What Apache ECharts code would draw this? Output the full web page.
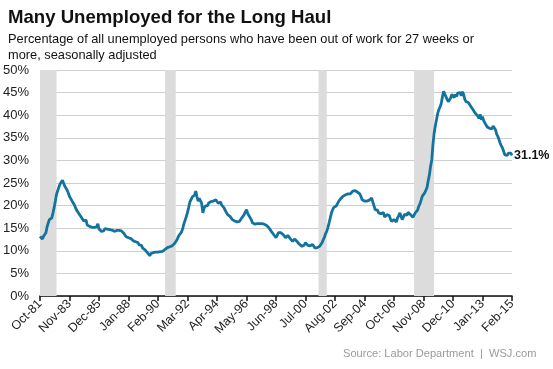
<!DOCTYPE html>
<html>
<head>
<meta charset="utf-8">
<script src="https://cdn.jsdelivr.net/npm/echarts@6/dist/echarts.min.js"></script>
<style>
html,body{margin:0;padding:0;background:#fff;}
#chart{width:553px;height:369px;}
</style>
</head>
<body>
<div id="chart"></div>
<script>
// Monthly share (%) of unemployed out of work 27+ weeks, Oct-1981 .. Feb-2015
const startYear = 1981, startMonth = 9; // October (0-based)
const values1980s = [
  13.2, 12.8, 12.6,                                                   // 1981 Oct-Dec
  13.2, 13.6, 14.0, 15.3, 16.2, 16.9, 16.6, 17.3, 18.4, 19.6, 21.0, 22.5, // 1982
  23.3, 24.1, 24.8, 25.2, 25.6, 26.0, 24.3, 23.9, 23.4, 22.8, 22.0, 21.6, // 1983
  21.1, 20.8, 20.2, 19.8, 19.0, 18.6, 18.2, 17.9, 17.4, 17.0, 16.6, 16.3, // 1984
  16.8, 15.7, 16.0, 15.4, 15.6, 15.2, 15.0, 15.2, 14.9, 15.3, 16.0, 14.8, // 1985
  14.7, 14.3, 14.5, 14.4, 14.9, 15.0, 14.8, 14.6, 14.7, 14.5, 14.6, 14.2, // 1986
  14.3, 14.6, 14.5, 14.4, 14.5, 14.8, 14.4, 14.2, 13.9, 13.5, 13.1, 13.2, // 1987
  12.9, 13.0, 12.7, 12.5, 12.2, 12.3, 12.0, 11.6, 11.8, 11.3, 11.0, 11.2, // 1988
  10.6, 10.4, 10.2, 10.0, 9.6, 9.2, 8.9, 9.4, 9.3, 9.6, 9.9, 9.7         // 1989
];
const values1990s = [
  9.8, 9.7, 9.6, 9.8, 9.7, 9.9, 10.0, 10.3, 10.5, 10.7, 10.8, 10.9,       // 1990
  11.0, 11.1, 11.3, 11.6, 12.0, 12.4, 13.0, 13.5, 13.9, 14.2, 15.0, 16.0, // 1991
  16.8, 17.6, 18.5, 19.6, 20.8, 21.3, 21.9, 22.0, 22.3, 23.2, 22.0, 21.0, // 1992
  21.6, 21.3, 20.5, 18.4, 19.4, 19.9, 20.2, 20.0, 20.6, 20.5, 20.9, 20.7, // 1993
  21.0, 20.6, 21.3, 21.2, 20.5, 20.6, 20.8, 20.1, 20.2, 19.5, 18.9, 18.7, // 1994
  18.0, 17.8, 17.6, 17.2, 16.9, 16.5, 16.6, 16.2, 16.4, 16.3, 16.5, 16.8, // 1995
  17.3, 17.2, 18.0, 18.6, 19.1, 18.3, 17.8, 17.6, 16.9, 16.2, 16.4, 15.9, // 1996
  15.8, 16.0, 15.9, 16.0, 16.2, 16.0, 16.2, 15.9, 15.8, 15.6, 15.2, 15.1, // 1997
  14.8, 14.3, 14.0, 13.6, 13.2, 12.9, 13.4, 14.0, 14.3, 14.0, 13.6, 13.6, // 1998
  13.2, 12.9, 12.9, 13.4, 13.2, 12.7, 12.5, 12.1, 12.3, 12.6, 12.5, 12.0  // 1999
];
const values2000s = [
  11.6, 11.4, 11.2, 11.0, 10.7, 11.3, 11.8, 11.6, 11.2, 11.0, 11.1, 11.4, // 2000
  11.4, 11.0, 10.6, 10.3, 10.7, 11.0, 11.0, 11.4, 11.8, 12.1, 13.0, 13.8, // 2001
  14.3, 15.2, 16.2, 17.3, 18.4, 19.1, 19.6, 19.4, 19.9, 20.4, 20.9, 21.3, // 2002
  21.6, 21.5, 22.1, 21.8, 22.4, 22.2, 22.6, 22.8, 22.6, 23.0, 23.2, 22.9, // 2003
  23.3, 23.5, 23.0, 23.1, 22.6, 22.0, 21.3, 21.6, 21.0, 20.6, 21.0, 21.3, // 2004
  21.2, 21.5, 21.7, 21.4, 20.0, 19.1, 18.7, 19.0, 18.4, 18.6, 18.2, 18.0, // 2005
  18.5, 17.5, 17.6, 18.0, 18.4, 17.8, 17.0, 16.5, 16.2, 16.9, 16.5, 16.4, // 2006
  17.3, 17.8, 18.4, 17.6, 16.9, 17.5, 18.1, 18.4, 17.9, 18.5, 18.8, 18.0, // 2007
  17.6, 17.4, 17.8, 18.4, 18.3, 19.0, 19.9, 20.4, 21.2, 22.1, 22.5, 22.8, // 2008
  23.2, 24.0, 25.5, 26.8, 28.7, 30.1, 33.5, 36.0, 37.6, 39.0, 40.4, 41.2  // 2009
];
const values2010s = [
  41.8, 42.6, 44.0, 45.3, 45.0, 44.1, 43.5, 43.0, 43.1, 43.8, 44.6, 44.9, // 2010
  43.9, 44.6, 44.1, 44.9, 44.5, 45.0, 44.3, 45.2, 44.6, 43.5, 43.0, 43.3, // 2011
  42.8, 42.6, 42.0, 41.6, 41.2, 41.0, 40.4, 40.2, 39.8, 39.3, 40.2, 39.0, // 2012
  39.7, 38.8, 38.3, 37.9, 37.4, 37.6, 37.1, 37.5, 37.0, 37.6, 37.2, 36.8, // 2013
  35.8, 35.3, 34.6, 33.8, 33.2, 32.7, 32.3, 31.2, 31.6, 31.1, 31.6, 31.2, // 2014
  31.6, 31.1                                                              // 2015 Jan-Feb
];
const tickLabels = ['Oct-81','Nov-83','Dec-85','Jan-88','Feb-90','Mar-92','Apr-94','May-96',
  'Jun-98','Jul-00','Aug-02','Sep-04','Oct-06','Nov-08','Dec-10','Jan-13','Feb-15'];
const recessions = [['Oct-81','Dec-82'], ['Aug-90','May-91'], ['Jun-01','Jan-02'], ['Mar-08','Aug-09']];
const yTicks = [0, 5, 10, 15, 20, 25, 30, 35, 40, 45, 50];

const monthNames = ['Jan','Feb','Mar','Apr','May','Jun','Jul','Aug','Sep','Oct','Nov','Dec'];
const values = values1980s.concat(values1990s, values2000s, values2010s);
const categories = values.map((v, i) => {
  const m = startMonth + i;
  const y = startYear + Math.floor(m / 12);
  return monthNames[m % 12] + '-' + String(y % 100).padStart(2, '0');
});
const tickSet = new Set(tickLabels);

const chart = echarts.init(document.getElementById('chart'), null, {renderer: 'canvas'});
const font = 'Liberation Sans, Arial, Helvetica, sans-serif';
chart.setOption({
  animation: false,
  backgroundColor: '#ffffff',
  title: [
    {text: 'Many Unemployed for the Long Haul', left: 8, top: 8, padding: 0,
     textStyle: {fontFamily: font, fontWeight: 'bold', fontSize: 18.6, color: '#111'}},
    {text: 'Percentage of all unemployed persons who have been out of work for 27 weeks or\nmore, seasonally adjusted',
     left: 8, top: 32, padding: 0,
     textStyle: {fontFamily: font, fontWeight: 'normal', fontSize: 12.8, lineHeight: 15.5, color: '#111'}},
    {text: 'Source: Labor Department  |  WSJ.com', left: 343, top: 348, padding: 0,
     textStyle: {fontFamily: font, fontWeight: 'normal', fontSize: 11.1, color: '#9a9a9a'}}
  ],
  grid: {left: 40, right: 41, top: 70, bottom: 73, containLabel: false},
  xAxis: {
    type: 'category', data: categories, boundaryGap: false,
    axisLine: {show: true, lineStyle: {color: '#111', width: 1.5}},
    axisTick: {show: true, length: 5, lineStyle: {color: '#111', width: 1.5},
               interval: (i, v) => tickSet.has(v)},
    axisLabel: {show: true, rotate: 45, margin: 6, fontFamily: font, fontSize: 12.5, color: '#222',
                interval: (i, v) => tickSet.has(v)},
    splitLine: {show: false}
  },
  yAxis: {
    type: 'value', min: yTicks[0], max: yTicks[yTicks.length - 1], interval: 5,
    axisLine: {show: false}, axisTick: {show: false},
    axisLabel: {formatter: '{value}%', fontFamily: font, fontSize: 13, color: '#222', margin: 11},
    splitLine: {show: true, lineStyle: {color: '#cfcfcf', width: 1}}
  },
  series: [{
    type: 'line', data: values, showSymbol: false, symbol: 'none',
    lineStyle: {color: '#13739f', width: 2.8}, z: 5,
    endLabel: {show: true, formatter: p => p.value + '%', fontFamily: font, fontWeight: 'bold',
               fontSize: 12.5, color: '#111', distance: 2},
    markArea: {silent: true, itemStyle: {color: '#dcdcdc'},
               data: recessions.map(r => [{xAxis: r[0]}, {xAxis: r[1]}])}
  }]
});
</script>
</body>
</html>
